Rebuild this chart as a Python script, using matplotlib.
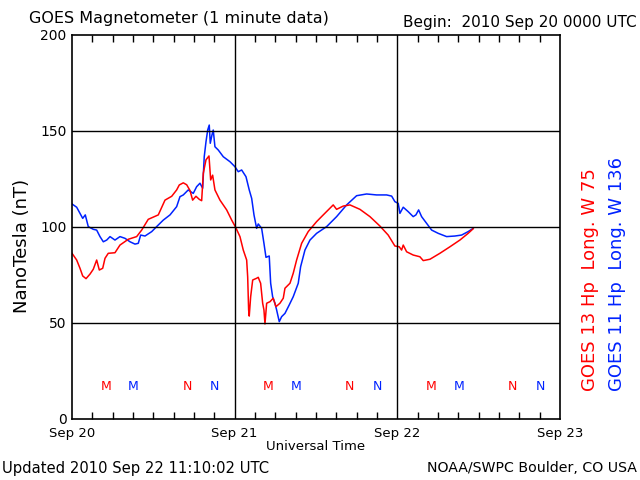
import matplotlib
matplotlib.use('Agg')
import matplotlib.pyplot as plt
import numpy as np

# GOES 13 (red) - hours since 2010 Sep 20 00 UT, nT
g13_hours = [0.0, 0.69, 1.18, 1.58, 2.07, 2.66, 3.14, 3.64, 4.03, 4.53, 4.87, 5.35,
             6.34, 7.08, 8.30, 9.54, 10.28, 11.25, 12.73, 13.72, 14.71, 15.44, 15.83,
             16.42, 16.92, 17.41, 17.80, 18.29, 18.78, 19.13, 19.37, 19.77, 20.21,
             20.46, 20.75, 21.09, 21.83, 22.82, 23.56, 24.15, 24.78, 25.27, 25.77,
             25.92, 26.06, 26.15, 26.36, 26.66, 27.24, 27.48, 27.63, 27.83, 28.13,
             28.32, 28.47, 28.72, 29.21, 29.69, 30.09, 30.68, 31.17, 31.42, 32.16,
             32.64, 33.14, 33.88, 34.85, 36.09, 37.07, 38.54, 39.04, 40.02, 41.01,
             42.48, 43.96, 45.43, 46.65, 47.64, 48.28, 48.63, 48.87, 49.37, 50.34,
             51.33, 51.82, 52.81, 54.28, 55.76, 57.23, 58.45, 59.19]
g13_nt = [86.3, 82.8, 78.5, 74.5, 73.1, 75.5, 78.0, 82.8, 77.6, 78.5, 83.7, 86.3,
          86.6, 90.6, 93.6, 95.0, 98.4, 104.0, 106.3, 114.0, 116.0, 119.3, 121.9,
          123.0, 122.0, 119.0, 114.0, 116.0, 114.4, 113.7, 128.0, 135.0, 137.0,
          124.5, 127.0, 119.3, 114.0, 108.9, 103.6, 99.8, 95.0, 88.0, 82.8,
          74.0, 56.8, 53.6, 63.7, 72.4, 73.3, 73.8, 72.4, 70.7, 60.3,
          56.8, 49.5, 60.3, 61.1, 62.9, 58.5, 60.3, 62.9, 68.1, 70.7,
          75.9, 82.8, 91.5, 97.6, 102.8, 106.3, 111.5, 109.2, 110.9, 111.5,
          109.2, 105.4, 100.5, 95.8, 90.1, 89.7, 88.0, 90.6, 87.1, 85.4,
          84.5, 82.5, 83.2, 86.3, 89.7, 93.2, 96.7, 99.1]

# GOES 11 (blue)
g11_hours = [0.0, 0.69, 1.18, 1.58, 1.96, 2.40, 3.14, 3.64, 4.13, 4.62, 5.12, 5.61,
             6.34, 7.08, 7.82, 8.56, 9.29, 9.78, 10.13, 10.77, 11.76, 12.49, 13.47,
             14.46, 15.44, 15.93, 16.42, 17.15, 17.89, 18.39, 18.88, 19.28, 19.51,
             19.77, 20.02, 20.25, 20.40, 20.65, 20.84, 21.09, 21.58, 22.32, 23.31,
             24.04, 24.53, 25.03, 25.67, 26.15, 26.51, 26.85, 27.24, 27.48, 27.98,
             28.32, 28.62, 29.10, 29.31, 29.60, 29.94, 30.19, 30.58, 30.93, 31.42,
             32.05, 32.64, 33.38, 33.73, 34.37, 35.11, 36.09, 37.57, 39.04, 40.52,
             41.99, 43.47, 44.94, 46.42, 47.16, 47.64, 48.13, 48.38, 48.87, 49.60,
             50.34, 50.74, 51.14, 51.58, 52.32, 53.06, 54.03, 55.27, 56.49, 57.48,
             58.45, 59.19]
g11_nt = [112.0, 110.3, 107.1, 104.5, 106.3, 100.2, 98.8, 98.4, 95.0, 92.3, 93.2, 95.0,
          93.2, 95.0, 94.1, 92.3, 91.1, 91.5, 95.8, 95.3, 97.6, 100.2, 103.6,
          106.3, 110.6, 115.8, 116.7, 119.3, 117.5, 121.0, 122.8, 120.2, 136.6,
          144.4, 150.5, 153.1, 143.6, 147.9, 150.5, 141.8, 140.1, 136.6, 134.0,
          131.4, 128.8, 129.7, 126.2, 119.3, 114.9, 106.3, 99.3, 101.6, 99.3,
          91.5, 84.2, 84.9, 70.7, 63.7, 60.3, 56.8, 50.7, 53.3, 55.0,
          59.4, 63.7, 70.7, 79.3, 88.0, 93.2, 96.7, 100.2, 105.4, 111.5,
          116.3, 117.2, 116.7, 116.7, 116.1, 113.2, 112.3, 107.1, 110.3, 108.0,
          105.4, 106.3, 108.9, 105.4, 101.9, 98.4, 96.7, 95.0, 95.3, 95.8,
          97.6, 99.3]

# local midnight (M) / noon (N) marks, hours UT
g13_marks = [(5.0, 'M'), (17.0, 'N'), (29.0, 'M'), (41.0, 'N'), (53.0, 'M'), (65.0, 'N')]
g11_marks = [(9.07, 'M'), (21.07, 'N'), (33.07, 'M'), (45.07, 'N'), (57.07, 'M'), (69.07, 'N')]

day_labels = ['Sep 20', 'Sep 21', 'Sep 22', 'Sep 23']
y_ticks = [0, 50, 100, 150, 200]

red = '#ff0000'
blue = '#0022ff'

fig = plt.figure(figsize=(6.4, 4.8), dpi=100)
ax = fig.add_axes([72 / 640, 1 - 419 / 480, 488 / 640, 384 / 480])

ax.plot(np.array(g11_hours) / 24, g11_nt, color=blue, lw=1.1)
ax.plot(np.array(g13_hours) / 24, g13_nt, color=red, lw=1.1)

for h, s in g13_marks:
    ax.text(h / 24, 17, s, color=red, ha='center', va='center', fontsize=9)
for h, s in g11_marks:
    ax.text(h / 24, 17, s, color=blue, ha='center', va='center', fontsize=9)

ax.set_xlim(0, 3)
ax.set_ylim(0, 200)
ax.set_xticks(range(4))
ax.set_xticklabels(day_labels, fontsize=9.5)
ax.set_xticks(np.arange(0, 3.01, 0.125), minor=True)
ax.set_yticks(y_ticks)
ax.set_yticklabels([str(v) for v in y_ticks], fontsize=10)
ax.tick_params(axis='x', which='major', length=0, pad=6)
ax.tick_params(axis='x', which='minor', direction='in', length=5, top=True, bottom=True, width=1)
ax.tick_params(axis='y', length=0, pad=4)
for v in [1, 2]:
    ax.axvline(v, color='black', lw=1)
for v in [50, 100, 150]:
    ax.axhline(v, color='black', lw=1)
for sp in ax.spines.values():
    sp.set_linewidth(1.2)

ax.set_xlabel('Universal Time', fontsize=9.5, labelpad=0)

fig.text(22 / 640, 1 - 246 / 480, 'NanoTesla (nT)', fontsize=13, rotation=90,
         ha='center', va='center')
fig.text(29 / 640, 1 - 18 / 480, 'GOES Magnetometer (1 minute data)', fontsize=11.5,
         ha='left', va='center')
fig.text(637 / 640, 1 - 22 / 480, 'Begin:  2010 Sep 20 0000 UTC', fontsize=11,
         ha='right', va='center')
fig.text(2 / 640, 1 - 468 / 480, 'Updated 2010 Sep 22 11:10:02 UTC', fontsize=10.6,
         ha='left', va='center')
fig.text(637 / 640, 1 - 468 / 480, 'NOAA/SWPC Boulder, CO USA', fontsize=10.2,
         ha='right', va='center')
fig.text(590 / 640, 1 - 391 / 480, 'GOES 13 Hp  Long. W 75', color=red, fontsize=13,
         rotation=90, ha='center', va='bottom')
fig.text(617 / 640, 1 - 391 / 480, 'GOES 11 Hp  Long. W 136', color=blue, fontsize=13,
         rotation=90, ha='center', va='bottom')

fig.savefig('out.png', dpi=100)
